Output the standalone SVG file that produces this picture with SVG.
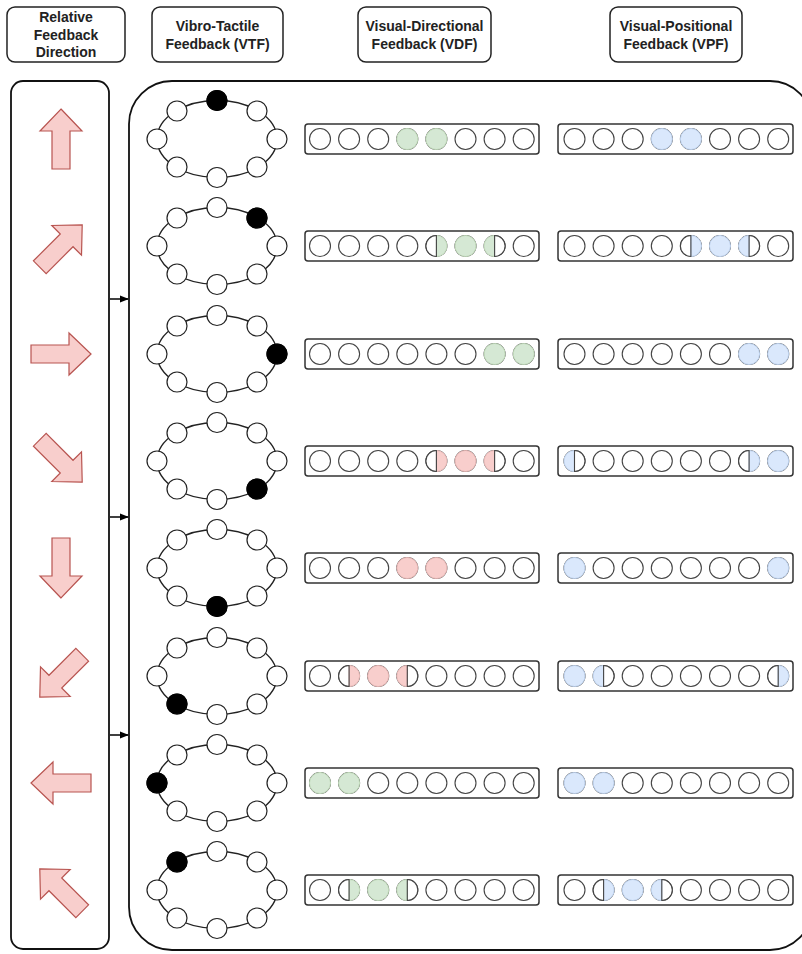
<svg xmlns="http://www.w3.org/2000/svg" xmlns:xlink="http://www.w3.org/1999/xlink" width="802" height="954" viewBox="0 0 802 954">
<style>
.hdr{fill:#fff;stroke:#222;stroke-width:1.5}
.ht{font-family:"Liberation Sans",Arial,sans-serif;font-weight:bold;font-size:14px;fill:#222;text-anchor:middle}
.panel{fill:#fff;stroke:#111;stroke-width:1.8}
.bar{fill:#fff;stroke:#333;stroke-width:1.5}
.arr{fill:#f8cecc;stroke:#b85450;stroke-width:1.2;stroke-linejoin:miter}
.con{stroke:#000;stroke-width:1.5;fill:none}
.o{fill:#fff;stroke:#444;stroke-width:1.1}
.ln{fill:none;stroke:#444;stroke-width:1.1}
.gf{fill:#d5e8d4;stroke:#c3ddbc;stroke-width:1}
.rf{fill:#f8cecc;stroke:#eab9b7;stroke-width:1}
.bf{fill:#dae8fc;stroke:#bfd3ef;stroke-width:1}
.rn{fill:#fff;stroke:#222;stroke-width:1.2}
.rk{fill:#000;stroke:#000;stroke-width:1.2}
.ell{fill:none;stroke:#222;stroke-width:1.4}
</style>
<defs>
<marker id="ah" viewBox="0 0 10 10" refX="9" refY="5" markerWidth="6" markerHeight="6" orient="auto" markerUnits="strokeWidth"><path d="M0,1 L10,5 L0,9 Z" fill="#000"/></marker>
<polygon id="arrow" points="0,-30 21,-8 9,-8 9,30 -9,30 -9,-8 -21,-8"/>
<g id="ring">
<ellipse class="ell" rx="60" ry="38.5"/>
<circle class="rn" cx="0" cy="-38.5" r="10"/>
<circle class="rn" cx="40" cy="-28" r="10"/>
<circle class="rn" cx="60" cy="0" r="10"/>
<circle class="rn" cx="40" cy="28" r="10"/>
<circle class="rn" cx="0" cy="38.5" r="10"/>
<circle class="rn" cx="-40" cy="28" r="10"/>
<circle class="rn" cx="-60" cy="0" r="10"/>
<circle class="rn" cx="-40" cy="-28" r="10"/>
</g>
<g id="row8"><circle class="o" cx="0" r="10.5"/><circle class="o" cx="29.1" r="10.5"/><circle class="o" cx="58.2" r="10.5"/><circle class="o" cx="87.3" r="10.5"/><circle class="o" cx="116.4" r="10.5"/><circle class="o" cx="145.5" r="10.5"/><circle class="o" cx="174.6" r="10.5"/><circle class="o" cx="203.7" r="10.5"/></g>
<circle id="gF" class="gf" r="10.5"/>
<circle id="rF" class="rf" r="10.5"/>
<circle id="bF" class="bf" r="10.5"/>
<g id="gR"><circle r="10.5" fill="#fff"/><path class="gf" d="M0,-10.5 A10.5,10.5 0 0 1 0,10.5 Z"/><path class="ln" d="M0,-10.5 A10.5,10.5 0 0 0 0,10.5 Z"/></g>
<g id="gL"><circle r="10.5" fill="#fff"/><path class="gf" d="M0,-10.5 A10.5,10.5 0 0 0 0,10.5 Z"/><path class="ln" d="M0,-10.5 A10.5,10.5 0 0 1 0,10.5 Z"/></g>
<g id="rR"><circle r="10.5" fill="#fff"/><path class="rf" d="M0,-10.5 A10.5,10.5 0 0 1 0,10.5 Z"/><path class="ln" d="M0,-10.5 A10.5,10.5 0 0 0 0,10.5 Z"/></g>
<g id="rL"><circle r="10.5" fill="#fff"/><path class="rf" d="M0,-10.5 A10.5,10.5 0 0 0 0,10.5 Z"/><path class="ln" d="M0,-10.5 A10.5,10.5 0 0 1 0,10.5 Z"/></g>
<g id="bR"><circle r="10.5" fill="#fff"/><path class="bf" d="M0,-10.5 A10.5,10.5 0 0 1 0,10.5 Z"/><path class="ln" d="M0,-10.5 A10.5,10.5 0 0 0 0,10.5 Z"/></g>
<g id="bL"><circle r="10.5" fill="#fff"/><path class="bf" d="M0,-10.5 A10.5,10.5 0 0 0 0,10.5 Z"/><path class="ln" d="M0,-10.5 A10.5,10.5 0 0 1 0,10.5 Z"/></g>
</defs>
<rect width="802" height="954" fill="#fff"/>

<g id="headers">
<g id="h-direction"><rect class="hdr" x="7" y="7" width="118" height="55" rx="8"/><text class="ht" x="66" y="22">Relative</text><text class="ht" x="66" y="39.5">Feedback</text><text class="ht" x="66" y="57">Direction</text></g>
<g id="h-vtf"><rect class="hdr" x="152" y="7" width="131" height="55" rx="8"/><text class="ht" x="217.5" y="31">Vibro-Tactile</text><text class="ht" x="217.5" y="49">Feedback (VTF)</text></g>
<g id="h-vdf"><rect class="hdr" x="358" y="7" width="133" height="55" rx="8"/><text class="ht" x="424.5" y="31">Visual-Directional</text><text class="ht" x="424.5" y="49">Feedback (VDF)</text></g>
<g id="h-vpf"><rect class="hdr" x="610" y="7" width="132" height="55" rx="8"/><text class="ht" x="676" y="31">Visual-Positional</text><text class="ht" x="676" y="49">Feedback (VPF)</text></g>
</g>

<g id="direction-panel">
<rect class="panel" x="11" y="81" width="98" height="868" rx="12"/>
<use href="#arrow" class="arr" transform="translate(61,139)"/>
<use href="#arrow" class="arr" transform="translate(61,246) rotate(45)"/>
<use href="#arrow" class="arr" transform="translate(61,354) rotate(90)"/>
<use href="#arrow" class="arr" transform="translate(61,461) rotate(135)"/>
<use href="#arrow" class="arr" transform="translate(61,568) rotate(180)"/>
<use href="#arrow" class="arr" transform="translate(61,676) rotate(225)"/>
<use href="#arrow" class="arr" transform="translate(61,783) rotate(270)"/>
<use href="#arrow" class="arr" transform="translate(61,890) rotate(315)"/>
</g>

<g id="feedback-panel">
<path class="panel" d="M129,907 L129,124 A43,43 0 0 1 172,81 L770,81 A42,42 0 0 1 812,123 L812,908 A42,42 0 0 1 770,950 L172,950 A43,43 0 0 1 129,907 Z"/>
</g>

<g id="connectors">
<line class="con" x1="110" y1="299" x2="128" y2="299" marker-end="url(#ah)"/>
<line class="con" x1="110" y1="517" x2="128" y2="517" marker-end="url(#ah)"/>
<line class="con" x1="110" y1="735" x2="128" y2="735" marker-end="url(#ah)"/>
</g>

<g id="vtf">
<g id="vtf-1" transform="translate(217,139)"><use href="#ring"/><circle class="rk" cx="0" cy="-38.5" r="10"/></g>
<g id="vtf-2" transform="translate(217,246)"><use href="#ring"/><circle class="rk" cx="40" cy="-28" r="10"/></g>
<g id="vtf-3" transform="translate(217,354)"><use href="#ring"/><circle class="rk" cx="60" cy="0" r="10"/></g>
<g id="vtf-4" transform="translate(217,461)"><use href="#ring"/><circle class="rk" cx="40" cy="28" r="10"/></g>
<g id="vtf-5" transform="translate(217,568)"><use href="#ring"/><circle class="rk" cx="0" cy="38.5" r="10"/></g>
<g id="vtf-6" transform="translate(217,676)"><use href="#ring"/><circle class="rk" cx="-40" cy="28" r="10"/></g>
<g id="vtf-7" transform="translate(217,783)"><use href="#ring"/><circle class="rk" cx="-60" cy="0" r="10"/></g>
<g id="vtf-8" transform="translate(217,890)"><use href="#ring"/><circle class="rk" cx="-40" cy="-28" r="10"/></g>
</g>

<g id="vdf">
<g id="vdf-1" transform="translate(0,139)"><rect class="bar" x="305" y="-15" width="234" height="30" rx="3"/><use href="#row8" x="320"/><use href="#gF" x="407.3"/><use href="#gF" x="436.4"/></g>
<g id="vdf-2" transform="translate(0,246)"><rect class="bar" x="305" y="-15" width="234" height="30" rx="3"/><use href="#row8" x="320"/><use href="#gR" x="436.4"/><use href="#gF" x="465.5"/><use href="#gL" x="494.6"/></g>
<g id="vdf-3" transform="translate(0,354)"><rect class="bar" x="305" y="-15" width="234" height="30" rx="3"/><use href="#row8" x="320"/><use href="#gF" x="494.6"/><use href="#gF" x="523.7"/></g>
<g id="vdf-4" transform="translate(0,461)"><rect class="bar" x="305" y="-15" width="234" height="30" rx="3"/><use href="#row8" x="320"/><use href="#rR" x="436.4"/><use href="#rF" x="465.5"/><use href="#rL" x="494.6"/></g>
<g id="vdf-5" transform="translate(0,568)"><rect class="bar" x="305" y="-15" width="234" height="30" rx="3"/><use href="#row8" x="320"/><use href="#rF" x="407.3"/><use href="#rF" x="436.4"/></g>
<g id="vdf-6" transform="translate(0,676)"><rect class="bar" x="305" y="-15" width="234" height="30" rx="3"/><use href="#row8" x="320"/><use href="#rR" x="349.1"/><use href="#rF" x="378.2"/><use href="#rL" x="407.3"/></g>
<g id="vdf-7" transform="translate(0,783)"><rect class="bar" x="305" y="-15" width="234" height="30" rx="3"/><use href="#row8" x="320"/><use href="#gF" x="320"/><use href="#gF" x="349.1"/></g>
<g id="vdf-8" transform="translate(0,890)"><rect class="bar" x="305" y="-15" width="234" height="30" rx="3"/><use href="#row8" x="320"/><use href="#gR" x="349.1"/><use href="#gF" x="378.2"/><use href="#gL" x="407.3"/></g>
</g>

<g id="vpf">
<g id="vpf-1" transform="translate(0,139)"><rect class="bar" x="558" y="-15" width="235" height="30" rx="3"/><use href="#row8" x="574.5"/><use href="#bF" x="661.8"/><use href="#bF" x="690.9"/></g>
<g id="vpf-2" transform="translate(0,246)"><rect class="bar" x="558" y="-15" width="235" height="30" rx="3"/><use href="#row8" x="574.5"/><use href="#bR" x="690.9"/><use href="#bF" x="720"/><use href="#bL" x="749.1"/></g>
<g id="vpf-3" transform="translate(0,354)"><rect class="bar" x="558" y="-15" width="235" height="30" rx="3"/><use href="#row8" x="574.5"/><use href="#bF" x="749.1"/><use href="#bF" x="778.2"/></g>
<g id="vpf-4" transform="translate(0,461)"><rect class="bar" x="558" y="-15" width="235" height="30" rx="3"/><use href="#row8" x="574.5"/><use href="#bL" x="574.5"/><use href="#bR" x="749.1"/><use href="#bF" x="778.2"/></g>
<g id="vpf-5" transform="translate(0,568)"><rect class="bar" x="558" y="-15" width="235" height="30" rx="3"/><use href="#row8" x="574.5"/><use href="#bF" x="574.5"/><use href="#bF" x="778.2"/></g>
<g id="vpf-6" transform="translate(0,676)"><rect class="bar" x="558" y="-15" width="235" height="30" rx="3"/><use href="#row8" x="574.5"/><use href="#bF" x="574.5"/><use href="#bL" x="603.6"/><use href="#bR" x="778.2"/></g>
<g id="vpf-7" transform="translate(0,783)"><rect class="bar" x="558" y="-15" width="235" height="30" rx="3"/><use href="#row8" x="574.5"/><use href="#bF" x="574.5"/><use href="#bF" x="603.6"/></g>
<g id="vpf-8" transform="translate(0,890)"><rect class="bar" x="558" y="-15" width="235" height="30" rx="3"/><use href="#row8" x="574.5"/><use href="#bR" x="603.6"/><use href="#bF" x="632.7"/><use href="#bL" x="661.8"/></g>
</g>
</svg>
